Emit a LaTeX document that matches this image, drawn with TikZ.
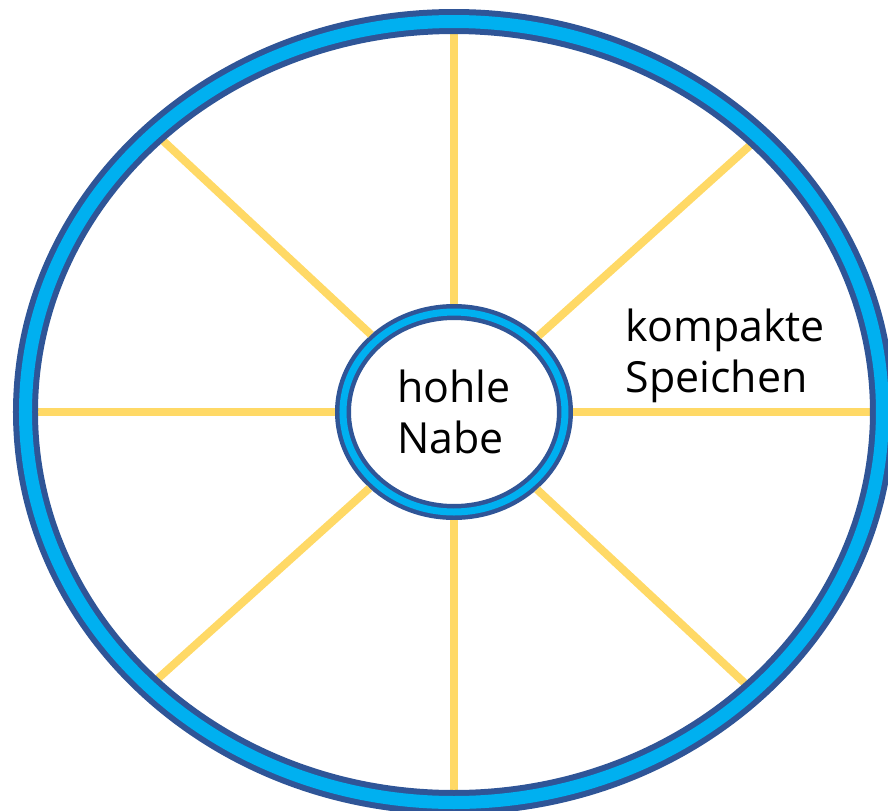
\documentclass[tikz,border=0pt]{standalone}
\usepackage{fontspec}
\setmainfont{Open Sans}
\usetikzlibrary{shapes.geometric}
\definecolor{felgedunkel}{RGB}{47,85,151}
\definecolor{felgeblau}{RGB}{0,176,240}
\definecolor{speiche}{RGB}{255,217,102}

\begin{document}
\begin{tikzpicture}[scale=1.0,
    ring/.style={draw=felgedunkel, double=felgeblau},
    speichenlinie/.style={speiche, line width=0.08cm},
    beschriftung/.style={font=\fontsize{12.2}{14.7}\selectfont, align=left, text=black}]
    % --- Rahmen ---
    \useasboundingbox (-4.54,-3.98) rectangle (4.34,4.12);

    % --- Felge (nur Umriss fuer die Anker) ---
    \node[ellipse, inner sep=0pt, outer sep=0pt,
          minimum width=8.57cm, minimum height=7.81cm] (felge) at (0,0) {};

    % --- Nabe (innen) ---
    \node[ellipse, ring, beschriftung, fill=white, inner sep=0pt,
          line width=0.045cm, double distance=0.07cm,
          minimum width=2.22cm, minimum height=2.0cm, outer sep=0.08cm] (nabe) at (0,0) {hohle\\Nabe};

    % --- Speichen ---
    \foreach \w in {0,42.5,90,137.5,180,222.5,270,317.5} {
      \draw[speichenlinie, shorten >=0.1cm] (nabe.\w) -- (felge.\w);
    }

    % --- Felge drueber, verdeckt die Speichenenden ---
    \draw[ring, line width=0.06cm, double distance=0.13cm]
      (felge.center) ellipse [x radius=4.285cm, y radius=3.905cm];

    % --- Beschriftung ---
    \node[beschriftung, anchor=west, inner sep=0pt] (speichentext) at (1.71,0.56) {kompakte\\Speichen};
\end{tikzpicture}
\end{document}
